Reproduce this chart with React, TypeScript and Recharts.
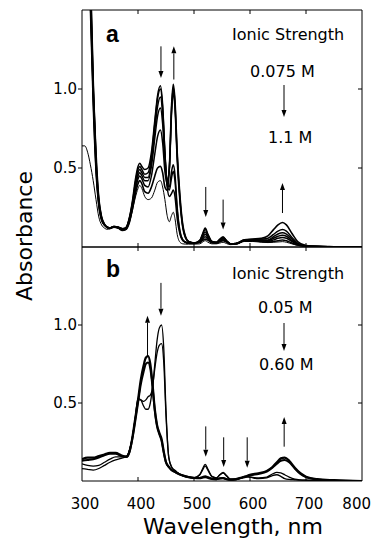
import React from "react";
import { LineChart, Line, XAxis, YAxis, ReferenceLine } from "recharts";

// panel a: wavelength grid (nm) and absorbance traces
const wavelengthsA = [
  300, 305, 310, 315, 320, 325, 330, 335, 340, 345, 350, 357, 365, 372, 378, 385, 390, 395, 400, 403,
  407, 412, 418, 424, 430, 435, 440, 444, 448, 452, 456, 460, 463, 466, 470, 475, 480, 485, 490, 500,
  510, 515, 520, 525, 532, 540, 546, 552, 558, 565, 575, 590, 605, 620, 632, 642, 650, 658, 665, 675,
  685, 700, 720, 750, 800,
];
const traceA0 = [
  0.64, 0.64, 0.6, 0.52, 0.42, 0.3, 0.19, 0.14, 0.12, 0.112, 0.115, 0.125, 0.125, 0.118, 0.115, 0.16, 0.23, 0.31, 0.37, 0.39,
  0.37, 0.32, 0.3, 0.31, 0.36, 0.41, 0.42, 0.38, 0.3, 0.2, 0.16, 0.2, 0.22, 0.18, 0.08, 0.03, 0.02, 0.018, 0.018, 0.018,
  0.02, 0.03, 0.04, 0.03, 0.02, 0.02, 0.025, 0.03, 0.022, 0.015, 0.018, 0.035, 0.035, 0.03, 0.028, 0.03, 0.032, 0.034, 0.03, 0.02,
  0.01, 0.004, 0.002, 0.001, 0,
];
const traceA1 = [
  4.0, 3.2, 2.3, 1.5, 0.9, 0.48, 0.26, 0.17, 0.14, 0.125, 0.12, 0.13, 0.125, 0.115, 0.12, 0.19, 0.29, 0.42, 0.51, 0.53,
  0.51, 0.49, 0.5, 0.6, 0.8, 0.96, 1.02, 0.9, 0.6, 0.38, 0.32, 0.34, 0.36, 0.32, 0.18, 0.08, 0.04, 0.03, 0.025, 0.025,
  0.04, 0.08, 0.12, 0.08, 0.035, 0.03, 0.05, 0.065, 0.04, 0.02, 0.02, 0.04, 0.04, 0.035, 0.03, 0.035, 0.04, 0.045, 0.04, 0.025,
  0.012, 0.005, 0.003, 0.002, 0,
];
const traceA2 = [
  4.2, 3.4, 2.4, 1.55, 0.95, 0.5, 0.27, 0.17, 0.14, 0.125, 0.12, 0.13, 0.125, 0.115, 0.12, 0.19, 0.28, 0.4, 0.49, 0.51,
  0.49, 0.46, 0.47, 0.57, 0.78, 0.94, 1.0, 0.88, 0.6, 0.4, 0.36, 0.44, 0.48, 0.42, 0.23, 0.09, 0.045, 0.03, 0.025, 0.025,
  0.04, 0.075, 0.11, 0.075, 0.035, 0.03, 0.045, 0.06, 0.04, 0.02, 0.02, 0.04, 0.04, 0.04, 0.035, 0.045, 0.055, 0.06, 0.055, 0.035,
  0.015, 0.006, 0.003, 0.002, 0,
];
const traceA3 = [
  4.4, 3.5, 2.5, 1.6, 0.98, 0.52, 0.28, 0.18, 0.14, 0.125, 0.12, 0.13, 0.125, 0.11, 0.115, 0.18, 0.27, 0.38, 0.47, 0.49,
  0.47, 0.44, 0.44, 0.54, 0.74, 0.89, 0.95, 0.84, 0.58, 0.41, 0.38, 0.48, 0.52, 0.46, 0.25, 0.1, 0.045, 0.03, 0.025, 0.025,
  0.035, 0.065, 0.095, 0.065, 0.032, 0.028, 0.042, 0.055, 0.038, 0.02, 0.02, 0.04, 0.042, 0.042, 0.04, 0.055, 0.068, 0.075, 0.068, 0.04,
  0.018, 0.006, 0.003, 0.002, 0,
];
const traceA4 = [
  4.6, 3.6, 2.6, 1.65, 1.0, 0.55, 0.29, 0.18, 0.14, 0.125, 0.12, 0.128, 0.12, 0.11, 0.115, 0.18, 0.26, 0.37, 0.45, 0.47,
  0.45, 0.42, 0.42, 0.51, 0.69, 0.83, 0.88, 0.78, 0.55, 0.42, 0.5, 0.85, 0.98, 0.88, 0.55, 0.28, 0.12, 0.055, 0.035, 0.025,
  0.033, 0.055, 0.08, 0.058, 0.03, 0.027, 0.04, 0.05, 0.036, 0.02, 0.022, 0.042, 0.045, 0.045, 0.045, 0.065, 0.082, 0.09, 0.082, 0.05,
  0.02, 0.007, 0.003, 0.002, 0,
];
const traceA5 = [
  4.8, 3.8, 2.7, 1.7, 1.03, 0.57, 0.3, 0.19, 0.145, 0.125, 0.12, 0.128, 0.12, 0.108, 0.11, 0.17, 0.25, 0.35, 0.43, 0.45,
  0.43, 0.39, 0.38, 0.45, 0.59, 0.7, 0.74, 0.66, 0.48, 0.4, 0.5, 0.88, 1.01, 0.91, 0.58, 0.3, 0.13, 0.06, 0.035, 0.025,
  0.03, 0.048, 0.065, 0.05, 0.028, 0.026, 0.036, 0.045, 0.034, 0.02, 0.022, 0.044, 0.048, 0.05, 0.055, 0.08, 0.1, 0.11, 0.1, 0.06,
  0.025, 0.008, 0.003, 0.002, 0,
];
const traceA6 = [
  5.0, 4.0, 2.8, 1.75, 1.06, 0.6, 0.31, 0.19, 0.145, 0.125, 0.118, 0.125, 0.118, 0.105, 0.11, 0.16, 0.24, 0.33, 0.4, 0.42,
  0.4, 0.35, 0.34, 0.38, 0.45, 0.5, 0.51, 0.47, 0.38, 0.36, 0.5, 0.9, 1.03, 0.93, 0.6, 0.32, 0.14, 0.065, 0.035, 0.025,
  0.028, 0.04, 0.05, 0.042, 0.027, 0.025, 0.033, 0.04, 0.032, 0.02, 0.022, 0.045, 0.05, 0.055, 0.07, 0.11, 0.14, 0.155, 0.14, 0.085,
  0.035, 0.01, 0.004, 0.002, 0,
];

// panel b
const wavelengthsB = [
  300, 310, 320, 330, 340, 350, 360, 370, 380, 385, 390, 395, 400, 405, 410, 414, 418, 422, 426, 430,
  434, 438, 442, 446, 450, 455, 460, 465, 470, 480, 490, 500, 510, 515, 520, 525, 532, 540, 546, 552,
  558, 565, 575, 585, 592, 600, 615, 630, 640, 648, 655, 662, 670, 680, 690, 700, 720, 750, 800,
];
const traceB1 = [
  0.08, 0.075, 0.07, 0.08, 0.1, 0.12, 0.135, 0.145, 0.16, 0.2, 0.28, 0.4, 0.52, 0.52, 0.51, 0.52, 0.54, 0.55, 0.6, 0.75,
  0.9, 0.98, 1.0, 0.85, 0.45, 0.15, 0.09, 0.07, 0.055, 0.035, 0.025, 0.02, 0.04, 0.075, 0.107, 0.075, 0.03, 0.02, 0.04, 0.055,
  0.035, 0.012, 0.012, 0.02, 0.03, 0.025, 0.015, 0.02, 0.035, 0.04, 0.03, 0.015, 0.01, 0.008, 0.006, 0.005, 0.003, 0.002, 0,
];
const traceB2 = [
  0.11, 0.1, 0.095, 0.1, 0.12, 0.14, 0.155, 0.155, 0.16, 0.2, 0.28, 0.4, 0.53, 0.52, 0.48, 0.46, 0.46, 0.5, 0.6, 0.72,
  0.82, 0.87, 0.88, 0.76, 0.42, 0.15, 0.09, 0.07, 0.055, 0.035, 0.025, 0.02, 0.038, 0.068, 0.095, 0.068, 0.028, 0.02, 0.038, 0.05,
  0.032, 0.012, 0.012, 0.02, 0.028, 0.025, 0.02, 0.025, 0.045, 0.055, 0.052, 0.04, 0.025, 0.012, 0.007, 0.005, 0.003, 0.002, 0,
];
const traceB3 = [
  0.13, 0.135, 0.14, 0.15, 0.165, 0.175, 0.175, 0.16, 0.155, 0.19, 0.27, 0.38, 0.5, 0.62, 0.7, 0.75, 0.76, 0.72, 0.6, 0.45,
  0.35, 0.3, 0.26, 0.18, 0.12, 0.09, 0.07, 0.06, 0.05, 0.035, 0.025, 0.02, 0.02, 0.025, 0.03, 0.025, 0.015, 0.012, 0.018, 0.02,
  0.012, 0.008, 0.01, 0.02, 0.025, 0.035, 0.045, 0.06, 0.085, 0.11, 0.13, 0.135, 0.12, 0.08, 0.045, 0.025, 0.01, 0.004, 0,
];
const traceB4 = [
  0.14, 0.15, 0.15, 0.16, 0.17, 0.18, 0.18, 0.165, 0.155, 0.19, 0.28, 0.4, 0.52, 0.65, 0.74, 0.79, 0.8, 0.75, 0.62, 0.46,
  0.36, 0.31, 0.27, 0.19, 0.12, 0.09, 0.07, 0.06, 0.05, 0.035, 0.025, 0.02, 0.018, 0.022, 0.025, 0.02, 0.014, 0.012, 0.016, 0.018,
  0.012, 0.008, 0.012, 0.022, 0.03, 0.04, 0.05, 0.065, 0.09, 0.12, 0.145, 0.15, 0.13, 0.085, 0.05, 0.028, 0.012, 0.005, 0,
];

// arrows marking the direction of change (wavelength, start, end absorbance)
const arrowsA = [
  { x: 441, from: 1.27, to: 1.07 },
  { x: 464, from: 1.06, to: 1.27 },
  { x: 521, from: 0.38, to: 0.19 },
  { x: 552, from: 0.3, to: 0.11 },
  { x: 658, from: 0.215, to: 0.405 },
];
const arrowsB = [
  { x: 417, from: 0.8, to: 1.06 },
  { x: 441, from: 1.27, to: 1.06 },
  { x: 521, from: 0.35, to: 0.156 },
  { x: 553, from: 0.28, to: 0.09 },
  { x: 595, from: 0.28, to: 0.085 },
  { x: 661, from: 0.22, to: 0.41 },
];

const xTicks = [300, 400, 500, 600, 700, 800];
const innerXTicks = [400, 500, 600, 700];
const yTicks = [0.5, 1.0];

const dataA = wavelengthsA.map((x, i) => ({
  x,
  a0: traceA0[i],
  a1: traceA1[i],
  a2: traceA2[i],
  a3: traceA3[i],
  a4: traceA4[i],
  a5: traceA5[i],
  a6: traceA6[i],
}));
const dataB = wavelengthsB.map((x, i) => ({
  x,
  b1: traceB1[i],
  b2: traceB2[i],
  b3: traceB3[i],
  b4: traceB4[i],
}));

const seriesA = [
  { key: "a0", w: 1 },
  { key: "a1", w: 1.5 },
  { key: "a2", w: 1.5 },
  { key: "a3", w: 1.5 },
  { key: "a4", w: 1.5 },
  { key: "a5", w: 1.5 },
  { key: "a6", w: 1.6 },
];
const seriesB = [
  { key: "b1", w: 1.3 },
  { key: "b2", w: 1.3 },
  { key: "b3", w: 2 },
  { key: "b4", w: 2.2 },
];

const blank = () => "";

function ArrowShape(props: any) {
  const { x1, y1, x2, y2 } = props;
  if (x1 == null || y1 == null) return null;
  const dir = y2 > y1 ? 1 : -1;
  const len = 7;
  const half = 2.5;
  return (
    <g>
      <line x1={x1} y1={y1} x2={x2} y2={y2 - dir * len} stroke="#000" strokeWidth={1} />
      <polygon
        points={`${x2},${y2} ${x2 - half},${y2 - dir * len} ${x2 + half},${y2 - dir * len}`}
        fill="#000"
      />
    </g>
  );
}

function BottomTick(props: any) {
  const { x, y, payload } = props;
  const last = payload.value === 800;
  return (
    <text
      x={last ? x + 9 : x + 3}
      y={y}
      dy="0.71em"
      textAnchor={last ? "end" : "middle"}
      fontSize={15}
      fill="#000"
    >
      {payload.value}
    </text>
  );
}

function frameAxes() {
  return [
    <XAxis
      key="xt"
      xAxisId="top"
      type="number"
      dataKey="x"
      orientation="top"
      mirror
      domain={[300, 800]}
      allowDataOverflow
      ticks={innerXTicks}
      tickFormatter={blank}
      tickSize={4}
      stroke="#000"
    />,
    <XAxis
      key="xin"
      xAxisId="in"
      type="number"
      dataKey="x"
      orientation="bottom"
      mirror
      domain={[300, 800]}
      allowDataOverflow
      ticks={innerXTicks}
      tickFormatter={blank}
      tickSize={4}
      stroke="#000"
    />,
    <YAxis
      key="yr"
      yAxisId="r"
      orientation="right"
      mirror
      domain={[0, 1.5]}
      allowDataOverflow
      ticks={yTicks}
      tickFormatter={blank}
      tickSize={4}
      stroke="#000"
    />,
  ];
}

export default function App() {
  return (
    <div
      style={{
        position: "absolute",
        left: 0,
        top: 0,
        width: 371,
        height: 538,
        background: "#fff",
        fontFamily: "'DejaVu Sans', sans-serif",
      }}
    >
      <div style={{ position: "absolute", left: 0, top: 0 }}>
        <LineChart width={371} height={248} data={dataA} margin={{ top: 10, right: 9, bottom: 1, left: 0 }}>
          <XAxis type="number" dataKey="x" domain={[300, 800]} allowDataOverflow hide />
          <YAxis
            domain={[0, 1.5]}
            allowDataOverflow
            ticks={yTicks}
            width={82}
            tickSize={4}
            tickMargin={1}
            tickFormatter={(v: number) => v.toFixed(1)}
            tick={{ fontSize: 15, fill: "#000" }}
            stroke="#000"
          />
          {frameAxes()}
          {seriesA.map((s) => (
            <Line
              key={s.key}
              dataKey={s.key}
              type="monotone"
              stroke="#000"
              strokeWidth={s.w}
              dot={false}
              isAnimationActive={false}
            />
          ))}
          {arrowsA.map((a, i) => (
            <ReferenceLine
              key={i}
              segment={[
                { x: a.x, y: a.from },
                { x: a.x, y: a.to },
              ]}
              shape={ArrowShape}
            />
          ))}
        </LineChart>
      </div>
      <div style={{ position: "absolute", left: 0, top: 237 }}>
        <LineChart width={371} height={301} data={dataB} margin={{ top: 10, right: 9, bottom: 0, left: 0 }}>
          <XAxis
            type="number"
            dataKey="x"
            domain={[300, 800]}
            allowDataOverflow
            ticks={xTicks}
            interval={0}
            height={57}
            tickLine={false}
            axisLine={false}
            tickMargin={11}
            tick={BottomTick}
          />
          <YAxis
            domain={[0, 1.5]}
            allowDataOverflow
            ticks={yTicks}
            width={82}
            tickSize={4}
            tickMargin={1}
            tickFormatter={(v: number) => v.toFixed(1)}
            tick={{ fontSize: 15, fill: "#000" }}
            stroke="#000"
          />
          {frameAxes()}
          {seriesB.map((s) => (
            <Line
              key={s.key}
              dataKey={s.key}
              type="monotone"
              stroke="#000"
              strokeWidth={s.w}
              dot={false}
              isAnimationActive={false}
            />
          ))}
          {arrowsB.map((a, i) => (
            <ReferenceLine
              key={i}
              segment={[
                { x: a.x, y: a.from },
                { x: a.x, y: a.to },
              ]}
              shape={ArrowShape}
            />
          ))}
        </LineChart>
      </div>
      <svg
        width={371}
        height={538}
        style={{ position: "absolute", left: 0, top: 0, pointerEvents: "none" }}
      >
        <g fill="#000">
          <text x={106} y={42} fontSize={23} fontWeight="bold" fontFamily="'Liberation Sans', Arial, sans-serif">
            a
          </text>
          <text x={106} y={277} fontSize={23} fontWeight="bold" fontFamily="'Liberation Sans', Arial, sans-serif">
            b
          </text>
          <text x={232} y={40} fontSize={16}>Ionic Strength</text>
          <text x={250} y={77} fontSize={16}>0.075 M</text>
          <text x={268} y={143} fontSize={16}>1.1 M</text>
          <text x={232} y={279} fontSize={16}>Ionic Strength</text>
          <text x={258} y={313} fontSize={16}>0.05 M</text>
          <text x={259} y={370} fontSize={16}>0.60 M</text>
          <text transform="translate(24,236) rotate(-90)" textAnchor="middle" dominantBaseline="central" fontSize={22}>
            Absorbance
          </text>
          <text x={233} y={534} textAnchor="middle" fontSize={22}>
            Wavelength, nm
          </text>
        </g>
        <line x1={284} y1={85} x2={284} y2={110} stroke="#000" strokeWidth={1} />
        <polygon points="284,117 281.5,110 286.5,110" fill="#000" />
        <line x1={284} y1={323} x2={284} y2={344} stroke="#000" strokeWidth={1} />
        <polygon points="284,351 281.5,344 286.5,344" fill="#000" />
      </svg>
    </div>
  );
}
